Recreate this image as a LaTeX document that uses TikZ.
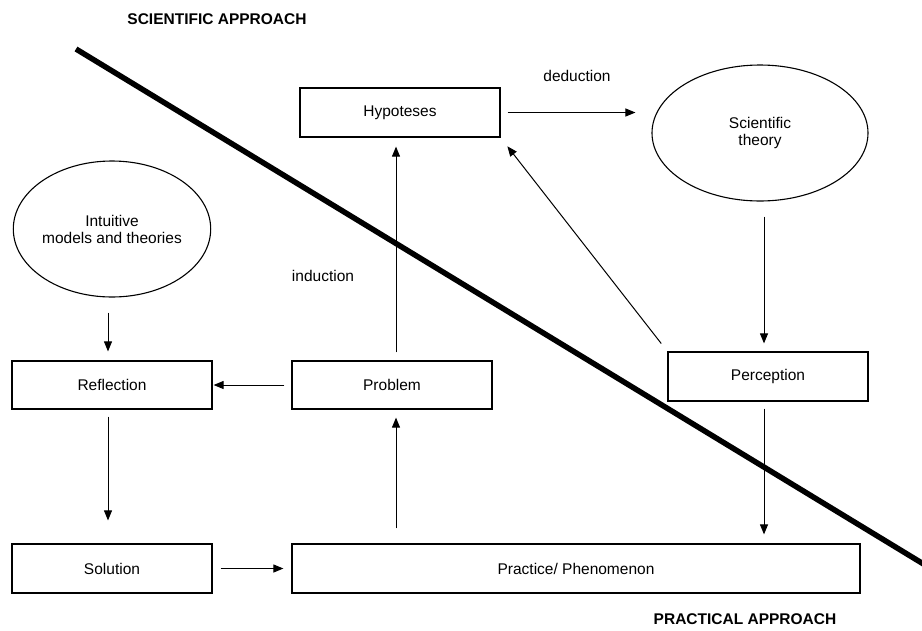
\documentclass[tikz,border=0pt]{standalone}
\usepackage{fontspec}
\setmainfont{Liberation Sans}
\usetikzlibrary{shapes.geometric,arrows.meta}

\tikzset{
  lbl/.style={font=\fontsize{15.5}{17}\selectfont, inner sep=0pt},
  head/.style={font=\fontsize{15.5}{17}\selectfont\bfseries, inner sep=0pt},
  stepbox/.style={draw, line width=1.2pt, rectangle, minimum height=49pt,
    inner sep=0pt, font=\fontsize{15.5}{17}\selectfont},
  bubble/.style={draw, line width=1.1pt, ellipse, inner sep=0pt, align=center,
    font=\fontsize{15.5}{17}\selectfont},
  flow/.style={line width=1pt, -{Triangle[length=10pt,width=8pt]}},
  divider/.style={line width=5.5pt}
}

\begin{document}
\begin{tikzpicture}[x=1pt,y=-1pt]
  \useasboundingbox (0,0) rectangle (922,630);
  \clip (0,0) rectangle (922,630);

  % headings
  \node[head] (sci) at (217,19) {SCIENTIFIC APPROACH};
  \node[head] (prc) at (745,619) {PRACTICAL APPROACH};

  % boxes and bubbles
  \node[stepbox, minimum width=200pt] (hyp)  at (400,112.5) {Hypoteses};
  \node[bubble, minimum width=216pt, minimum height=136pt] (theory) at (760,133) {Scientific\\theory};
  \node[bubble, minimum width=184pt, minimum height=136pt] (intu) at (112,229) {Intuitive\\models and theories};
  \node[stepbox, minimum width=200pt, minimum height=48pt] (refl) at (112,385) {Reflection};
  \node[stepbox, minimum width=200pt, minimum height=48pt] (prob) at (392,385) {Problem};
  \node[stepbox, minimum width=200pt] (perc) at (768,376.5) {Perception};
  \node[stepbox, minimum width=200pt] (sol)  at (112,568.5) {Solution};
  \node[stepbox, minimum width=568pt] (prac) at (576,568.5) {Practice/ Phenomenon};

  % edge labels
  \node[lbl] (ded) at (577,76) {deduction};
  \node[lbl] (ind) at (323,276) {induction};

  % dividing line between the two approaches
  \coordinate (d1) at (76,49);
  \coordinate (d2) at (935,571);
  \draw[divider] (d1) -- (d2);

  % connectors
  \draw[flow, shorten <=7pt, shorten >=16pt] (hyp.east) -- (hyp.east -| theory.west);
  \draw[flow, shorten <=8pt, shorten >=9pt] ([xshift=4pt]prob.north) -- ([xshift=4pt]prob.north |- hyp.south);
  \draw[flow, shorten <=10pt, shorten >=11pt] (perc.north west) -- (hyp.south east);
  \draw[flow, shorten <=15pt, shorten >=8pt] ([xshift=-4pt]perc.north |- theory.south) -- ([xshift=-4pt]perc.north);
  \draw[flow, shorten <=7pt, shorten >=9pt] ([xshift=-4pt]perc.south) -- ([xshift=-4pt]perc.south |- prac.north);
  \draw[flow, shorten <=7pt, shorten >=1pt] (prob.west) -- (refl.east);
  \draw[flow, shorten <=15pt, shorten >=9pt] ([xshift=-4pt]refl.north |- intu.south) -- ([xshift=-4pt]refl.north);
  \draw[flow, shorten <=7pt, shorten >=23pt] ([xshift=-4pt]refl.south) -- ([xshift=-4pt]sol.north);
  \draw[flow, shorten <=8pt, shorten >=8pt] (sol.east) -- (prac.west |- sol.east);
  \draw[flow, shorten <=15pt, shorten >=8pt] ([xshift=4pt]prob.south |- prac.north) -- ([xshift=4pt]prob.south);
\end{tikzpicture}
\end{document}
